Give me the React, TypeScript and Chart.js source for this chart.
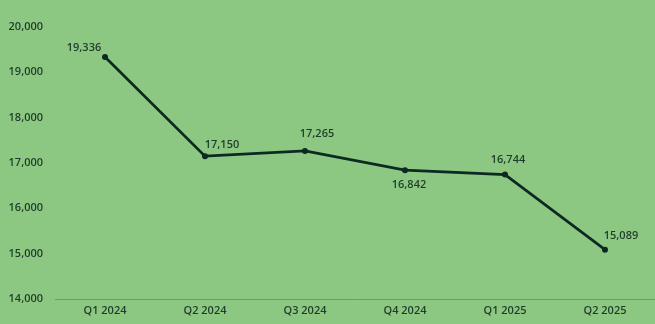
import React, { useEffect, useRef } from "react";
import { Chart, registerables } from "chart.js";

Chart.register(...registerables);

const categories = ["Q1 2024", "Q2 2024", "Q3 2024", "Q4 2024", "Q1 2025", "Q2 2025"];
const values = [19336, 17150, 17265, 16842, 16744, 15089];
const yTicks = [14000, 15000, 16000, 17000, 18000, 19000, 20000];

// label placement relative to each point (style, not data)
const labelDx = [-21, 17, 12, 4, 3, 16];
const labelDy = [-9, -11, -17, 15, -15, -14];

const BG = "#8DC883";
const TEXT = "#1F3C2A";
const LINE = "#0C2A22";
const FONT = "'Open Sans', sans-serif";

const fmt = (v: number) => v.toLocaleString("en-US");

const labelPlugin = {
  id: "pointLabels",
  afterDatasetsDraw(chart: any) {
    const ctx = chart.ctx;
    const meta = chart.getDatasetMeta(0);
    ctx.save();
    ctx.font = `600 11px ${FONT}`;
    ctx.fillStyle = TEXT;
    ctx.textAlign = "center";
    ctx.textBaseline = "middle";
    meta.data.forEach((pt: any, i: number) => {
      ctx.fillText(fmt(values[i]), pt.x + labelDx[i], pt.y + labelDy[i]);
    });
    ctx.restore();
  },
};

const bgPlugin = {
  id: "bg",
  beforeDraw(chart: any) {
    const ctx = chart.ctx;
    ctx.save();
    ctx.fillStyle = BG;
    ctx.fillRect(0, 0, chart.width, chart.height);
    ctx.restore();
  },
};

export default function App() {
  const ref = useRef<HTMLCanvasElement>(null);
  useEffect(() => {
    document.body.style.margin = "0";
    document.body.style.background = BG;
    const chart = new Chart(ref.current!, {
      type: "line",
      data: {
        labels: categories,
        datasets: [
          {
            data: values,
            borderColor: LINE,
            backgroundColor: LINE,
            borderWidth: 2.75,
            pointRadius: 3,
            pointBackgroundColor: LINE,
            pointBorderWidth: 0,
            tension: 0,
          },
        ],
      },
      options: {
        animation: false,
        responsive: false,
        layout: { autoPadding: false, padding: { top: 27, right: 0, left: 0, bottom: 0 } },
        plugins: { legend: { display: false }, tooltip: { enabled: false } },
        scales: {
          x: {
            offset: true,
            grid: { display: false, drawTicks: false },
            border: { display: true, color: "#6E9E66", width: 1 },
            ticks: {
              color: TEXT,
              font: { size: 11, weight: "600", family: FONT },
              padding: 5,
              maxRotation: 0,
            },
            afterFit: (s: any) => {
              s.height = 25;
              s.paddingLeft = 0;
              s.paddingRight = 0;
            },
          },
          y: {
            min: 14000,
            max: 20000,
            afterBuildTicks: (s: any) => {
              s.ticks = yTicks.map((v) => ({ value: v }));
            },
            grid: { display: false, drawTicks: false },
            border: { display: false },
            ticks: {
              color: TEXT,
              font: { size: 11, weight: "600", family: FONT },
              padding: 12,
              callback: (v: any) => fmt(Number(v)),
            },
            afterFit: (s: any) => {
              s.width = 55;
              s.paddingTop = 0;
              s.paddingBottom = 0;
            },
          },
        },
      },
      plugins: [bgPlugin, labelPlugin],
    });
    return () => chart.destroy();
  }, []);
  return <canvas ref={ref} width={655} height={324} style={{ display: "block" }} />;
}
